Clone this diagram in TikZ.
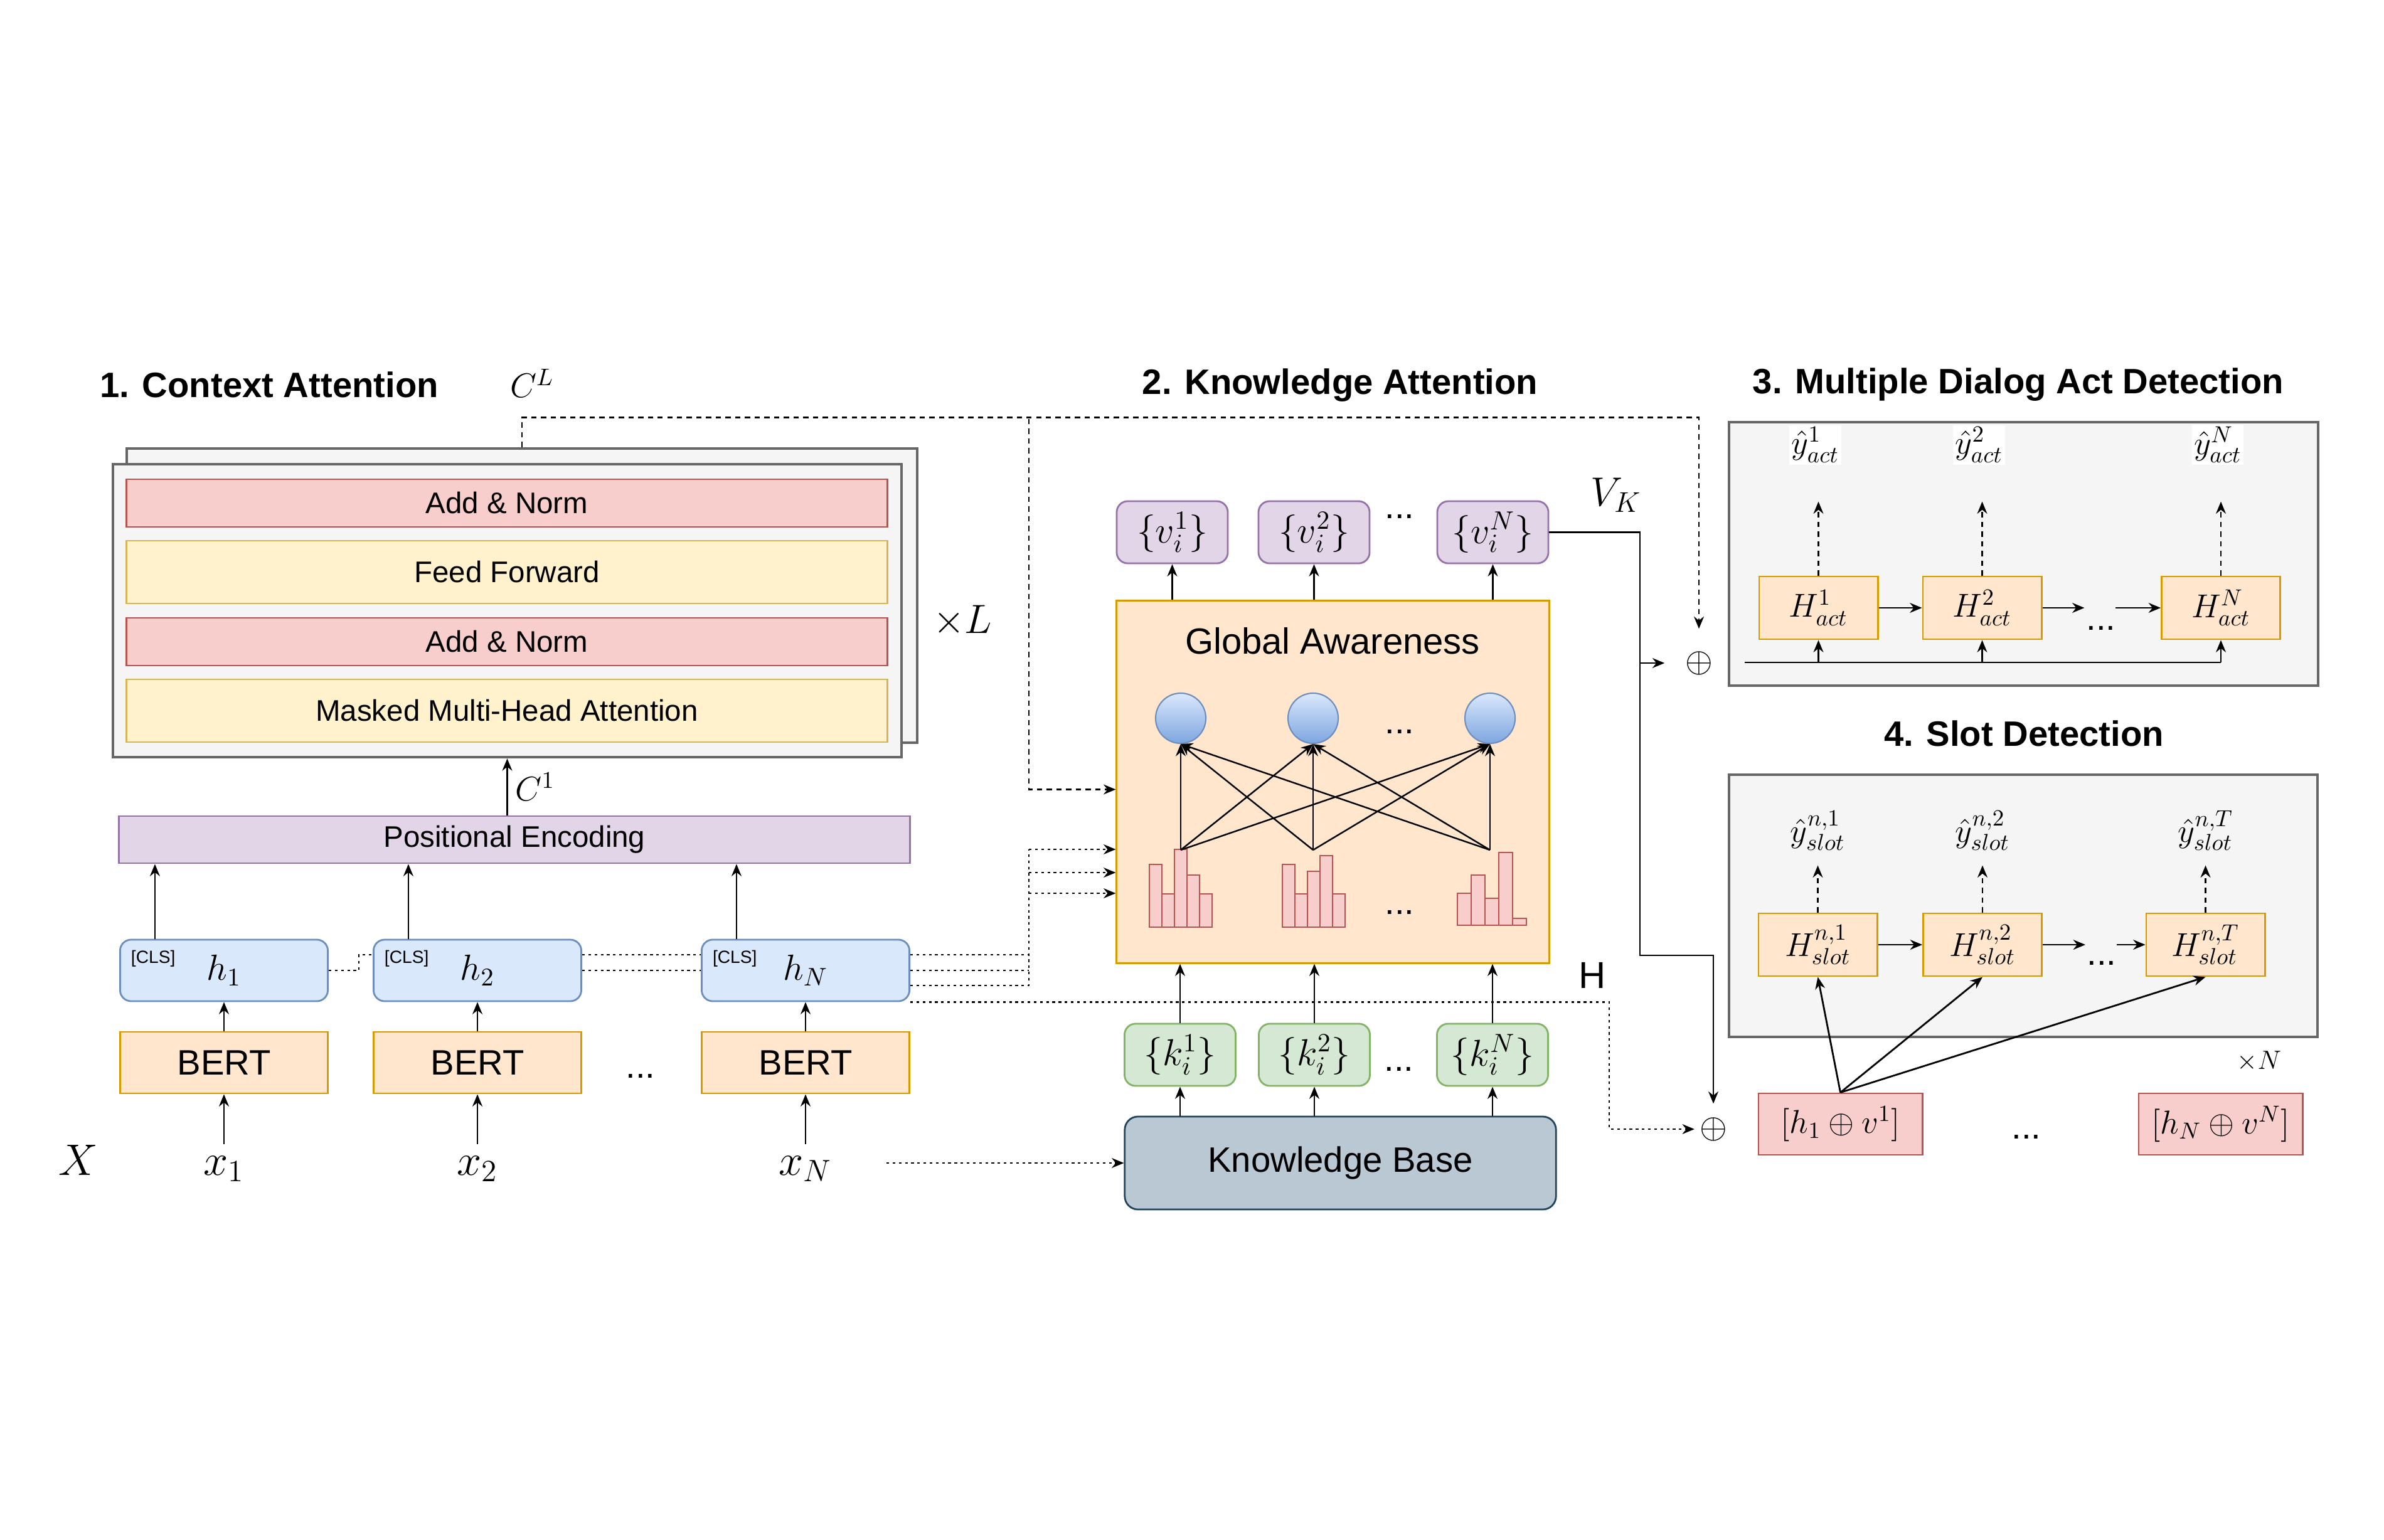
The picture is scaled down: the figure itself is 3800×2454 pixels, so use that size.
\RequirePackage{fix-cm}
\documentclass[tikz,border=0pt]{standalone}
\usepackage{fontspec}
\newfontfamily\helv{Liberation Sans}
\usetikzlibrary{arrows.meta}

\definecolor{grayfill}{HTML}{F5F5F5}
\definecolor{grayline}{HTML}{666666}
\definecolor{redfill}{HTML}{F8CECC}
\definecolor{redline}{HTML}{B85450}
\definecolor{yelfill}{HTML}{FFF2CC}
\definecolor{yelline}{HTML}{D6B656}
\definecolor{purfill}{HTML}{E1D5E7}
\definecolor{purline}{HTML}{9673A6}
\definecolor{bluefill}{HTML}{DAE8FC}
\definecolor{blueline}{HTML}{6C8EBF}
\definecolor{neurdark}{HTML}{7EA6E0}
\definecolor{orafill}{HTML}{FFE6CC}
\definecolor{oraline}{HTML}{D79B00}
\definecolor{grnfill}{HTML}{D5E8D4}
\definecolor{grnline}{HTML}{82B366}
\definecolor{kbfill}{HTML}{BAC8D3}
\definecolor{kbline}{HTML}{23445D}

\tikzset{
  box/.style={draw,line width=0.8pt,inner sep=0pt,align=center},
  grp/.style={box,fill=grayfill,draw=grayline,line width=1.2pt},
  addnorm/.style={box,fill=redfill,draw=redline,minimum width=12.12cm,minimum height=0.76cm,font=\helv\fontsize{13.5}{16}\selectfont},
  ffbox/.style={box,fill=yelfill,draw=yelline,minimum width=12.12cm,minimum height=1cm,font=\helv\fontsize{13.5}{16}\selectfont},
  pebox/.style={box,fill=purfill,draw=purline,minimum width=12.6cm,minimum height=0.75cm,font=\helv\fontsize{13.5}{16}\selectfont},
  hbox/.style={box,rounded corners=5pt,fill=bluefill,draw=blueline,minimum width=3.31cm,minimum height=0.98cm,font=\fontsize{16.5}{20}\selectfont},
  bert/.style={box,fill=orafill,draw=oraline,minimum width=3.31cm,minimum height=0.98cm,font=\helv\fontsize{16}{19}\selectfont},
  cls/.style={font=\helv\fontsize{8}{9}\selectfont,anchor=north west,inner sep=5pt},
  xlab/.style={font=\fontsize{20}{24}\selectfont,anchor=base,inner sep=5pt},
  mlab/.style={font=\fontsize{15.5}{18}\selectfont},
  title/.style={font=\helv\bfseries\fontsize{16}{19}\selectfont},
  ellip/.style={font=\helv\fontsize{16}{19}\selectfont,anchor=base,inner sep=0pt},
  vbox/.style={box,rounded corners=5pt,fill=purfill,draw=purline,minimum width=1.77cm,minimum height=0.99cm,font=\fontsize{17}{20}\selectfont},
  kbox/.style={vbox,fill=grnfill,draw=grnline},
  kbbox/.style={box,rounded corners=6pt,fill=kbfill,draw=kbline,minimum width=6.87cm,minimum height=1.48cm,font=\helv\fontsize{16}{19}\selectfont},
  neuron/.style={circle,draw=blueline,line width=0.6pt,top color=bluefill,bottom color=neurdark,minimum size=0.8cm,inner sep=0pt},
  bar/.style={draw=redline,fill=redfill,line width=0.7pt},
  hact/.style={box,fill=orafill,draw=oraline,minimum width=1.89cm,minimum height=1cm,font=\fontsize{15}{18}\selectfont},
  catbox/.style={box,fill=redfill,draw=redline,minimum width=2.61cm,minimum height=0.98cm,font=\fontsize{15}{18}\selectfont},
  yhat/.style={font=\fontsize{15}{18}\selectfont,inner sep=1pt},
  opl/.style={circle,inner sep=0pt,font=\fontsize{16}{16}\selectfont},
  dotln/.style={dash pattern=on 1.2pt off 1.6pt},
  dashln/.style={dash pattern=on 2.4pt off 2pt}
}

\begin{document}
\begin{tikzpicture}[x=0.01cm,y=-0.01cm,line width=0.8pt,>={Stealth[length=5.5pt,width=4.5pt]}]
  \path[use as bounding box,fill=white] (0,0) rectangle (3800,2454);

  % 1. context attention
  \node[title] (t1) at (429,613) {1. Context Attention};
  \node[grp,minimum width=12.6cm,minimum height=4.69cm] (stackback) at (832,949.5) {};
  \node[grp,minimum width=12.57cm,minimum height=4.67cm] (stack) at (808.5,973.5) {};
  \node[addnorm] (an2) at (808,802) {Add \& Norm};
  \node[ffbox] (ff) at (808,912) {Feed Forward};
  \node[addnorm] (an1) at (808,1023) {Add \& Norm};
  \node[ffbox] (mmha) at (808,1133) {Masked Multi-Head Attention};
  \node[mlab,font=\fontsize{18.5}{22}\selectfont] (xl) at (1534,990) {$\times L$};
  \node[mlab] (cl) at (848,611) {$C^L$};
  \node[pebox] (pe) at (820,1338.5) {Positional Encoding};
  \draw[->] (stack.south |- pe.north) -- (stack.south) node[mlab,pos=.5,right] {$C^1$};

  \foreach \n/\x/\sub in {1/357/1,2/761/2,N/1284/N}{
    \node[hbox] (h\n) at (\x,1547) {$h_{\sub}$};
    \node[cls] at (h\n.north west) {[CLS]};
    \node[bert] (bert\n) at (\x,1694) {BERT};
    \node[xlab] (x\n) at (\x,1873) {$x_{\sub}$};
    \draw[->] (x\n) -- (bert\n);
    \draw[->] (bert\n) -- (h\n);
    \draw[->] ([xshift=-1.1cm]h\n.north) -- ([xshift=-1.1cm]h\n.north |- pe.south);
  }
  \node[xlab] (xx) at (125,1873) {$X$};
  \node[ellip] (bdots) at (1021,1718) {...};

  % 2. knowledge attention
  \node[title] (t2) at (2136,614) {2. Knowledge Attention};
  \node[box,fill=orafill,draw=oraline,minimum width=6.89cm,minimum height=5.77cm] (ga) at (2124.5,1246.5) {};
  \node[font=\helv\fontsize{16.5}{20}\selectfont] (gat) at (2124,1022) {Global Awareness};
  \foreach \n/\x/\sub in {1/1868.5/1,2/2094.5/2,N/2379.5/N}{
    \node[vbox] (v\n) at (\x,848.5) {$\{v_i^{\sub}\}$};
    \draw[->] (ga.north -| v\n) -- (v\n);
  }
  \node[kbbox] (kb) at (2136.5,1854) {Knowledge Base};
  \foreach \n/\x/\sub in {1/1881/1,2/2095/2,N/2379/N}{
    \node[kbox] (k\n) at (\x,1681.5) {$\{k_i^{\sub}\}$};
    \draw[->] (kb.north -| k\n) -- (k\n);
    \draw[->] (k\n) -- (k\n |- ga.south);
  }
  \foreach \n/\x in {1/1882,2/2093,3/2375}{
    \node[neuron] (nr\n) at (\x,1145) {};
    \coordinate (hp\n) at (\x,1355);
  }
  \foreach \i/\t in {0/1378,1/1425,2/1354,3/1395,4/1425}
    \draw[bar] (1832+20*\i,1478) rectangle ++(20,\t-1478);
  \foreach \i/\t in {0/1378,1/1425,2/1389,3/1364,4/1425}
    \draw[bar] (2044+20*\i,1478) rectangle ++(20,\t-1478);
  \foreach \i/\t in {0/1424,1/1395,2/1432,3/1359,4/1464}
    \draw[bar] (2323+22*\i,1475) rectangle ++(22,\t-1475);
  \foreach \i in {1,2,3}{
    \foreach \j in {1,2,3}
      \draw[->,line width=0.7pt] (hp\i) -- (nr\j.south);
  }
  \node[ellip] at (2231,826) {...};
  \node[ellip] at (2231,1169) {...};
  \node[ellip] at (2231,1457) {...};
  \node[ellip] at (2230,1707) {...};
  \node[mlab,font=\fontsize{18.5}{22}\selectfont] (vk) at (2576,789) {$V_K$};
  \node[font=\helv\fontsize{17}{20}\selectfont] (hl) at (2538,1555) {H};

  \node[opl] (op1) at (2708,1057) {$\oplus$};
  \node[opl] (op2) at (2731,1800) {$\oplus$};

  % connectors between the parts
  \draw[dotln] (h1.east) -- ++(48,0) |- ([yshift=0.25cm]h2.west);
  \draw[dotln] ([yshift=0.25cm]h2.east) -- ([yshift=0.25cm]hN.west);
  \draw[dotln] (h2.east) -- (hN.west);
  \coordinate (bus) at (1640,1354);
  \draw[dotln] ([yshift=0.25cm]hN.east) -- ([yshift=0.25cm]hN.east -| bus);
  \draw[dotln] (hN.east) -- (hN.east -| bus);
  \draw[dotln] ([yshift=-0.24cm]hN.east) -| (bus);
  \foreach \dy in {0cm,-0.37cm,-0.7cm}
    \draw[dotln,->] ([yshift=\dy]bus) -- ([yshift=\dy]bus -| ga.west);
  \coordinate (hturn) at (2565,1800);
  \draw[dotln,->] (hN.south east) -| (hturn) -- (op2);
  \coordinate (kbin) at (1413,1854);
  \draw[dotln,->] (kbin) -- (kb.west);

  \draw[dashln,->,shorten >=7pt] (stackback.north) -- ++(0,-47) -| (op1);
  \coordinate (clsplit) at (1640,668);
  \draw[dashln,->] (clsplit) |- ([yshift=-0.12cm]ga.west);

  \coordinate (vkturn) at (2614,1523);
  \coordinate (vksplit) at (2614,1057);
  \draw[->,shorten >=3pt] (vN.east) -| (vkturn) -| (op2);
  \draw[->,shorten >=7pt] (vksplit) -- (op1);

  % 3. multiple dialog act detection
  \node[title] (t3) at (3217,613) {3. Multiple Dialog Act Detection};
  \node[grp,minimum width=9.39cm,minimum height=4.2cm] (actgrp) at (3225.5,883) {};
  \coordinate (actin) at (2781,1056);
  \foreach \n/\x/\sub in {1/2898.5/1,2/3159.5/2,N/3540/N}{
    \node[hact] (ha\n) at (\x,969) {$H^{\sub}_{act}$};
    \node[yhat,fill=white] (ya\n) at (\x-5,709) {$\hat{y}^{\sub}_{act}$};
    \draw[dashln,->] (ha\n.north) -- ++(0,-118);
    \draw[->] (actin -| ha\n.south) -- (ha\n.south);
  }
  \draw (actin) -- (actin -| haN.south);
  \draw[->] (ha1) -- (ha2);
  \draw[->] (ha2.east) -- ++(67,0);
  \node[ellip] at (3349,1004) {...};
  \draw[->] ([xshift=-0.72cm]haN.west) -- (haN.west);

  % 4. slot detection
  \node[title] (t4) at (3226,1169) {4. Slot Detection};
  \node[grp,minimum width=9.38cm,minimum height=4.18cm] (slotgrp) at (3225,1444) {};
  \node[catbox] (cat1) at (2933.5,1792) {$[h_1\oplus v^1]$};
  \node[catbox] (catN) at (3539.5,1792) {$[h_N\oplus v^N]$};
  \node[ellip] at (3230,1815) {...};
  \node[mlab,font=\fontsize{12}{14}\selectfont] (xn) at (3601,1692) {$\times N$};
  \foreach \n/\x/\sub in {1/2897.5/1,2/3160/2,T/3515.5/T}{
    \node[hact] (hs\n) at (\x,1506) {$H^{n,\sub}_{slot}$};
    \node[yhat] (ys\n) at (\x,1324) {$\hat{y}^{n,\sub}_{slot}$};
    \draw[dashln,->] (hs\n.north) -- ++(0,-75);
    \draw[->] (cat1.north) -- (hs\n.south);
  }
  \draw[->] (hs1) -- (hs2);
  \draw[->] (hs2.east) -- ++(68,0);
  \node[ellip] at (3350,1538) {...};
  \draw[->] ([xshift=-0.46cm]hsT.west) -- (hsT.west);
\end{tikzpicture}
\end{document}
